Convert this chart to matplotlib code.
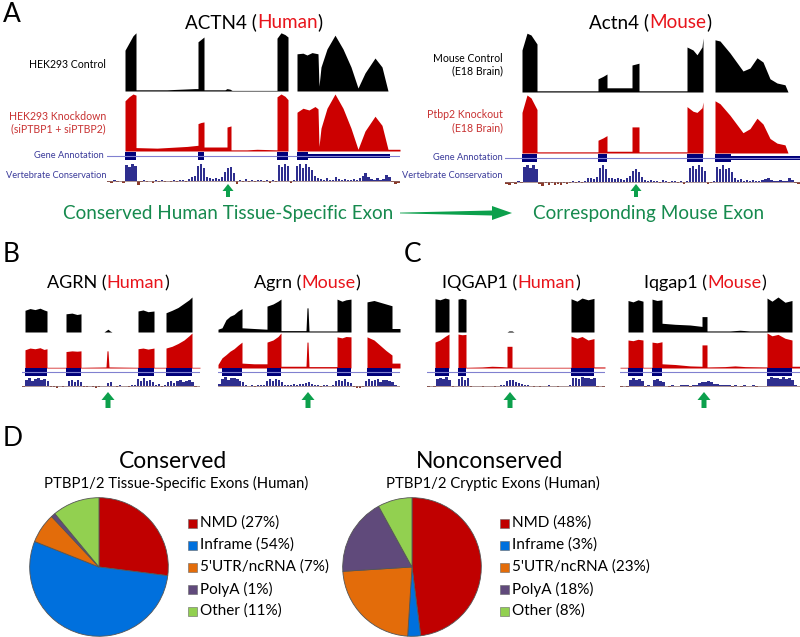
import matplotlib
matplotlib.use('Agg')
import matplotlib.pyplot as plt
import numpy as np
from matplotlib.patches import Rectangle, Polygon, FancyArrow

plt.rcParams['font.family'] = ['Lato', 'DejaVu Sans']

W, H = 800, 637
RED = '#cc0000'
TRED = '#e8141b'
NAVY = '#00007a'
CBLUE = '#2e2e8e'
CBROWN = '#8b3a2a'
ABLUE = '#3a3a9a'
GREEN_T = '#168a4e'
GREEN_A = '#0ca04c'

# ---- coverage profiles: (position, relative height) ----
actn4_ctrl = [(0, 0), (18, 0), (18, 68), (22, 80), (26, 92), (29, 97), (29, 2), (60, 2), (88, 4), (91, 4),
              (91, 82), (94, 86), (97, 90), (97, 2), (118, 2), (120, 4), (123, 3), (125, 1), (170, 1),
              (170, 88), (174, 97), (178, 94), (181, 90), (181, 0), (190, 0), (190, 62), (196, 63), (200, 60),
              (205, 64), (211, 62), (212, 8), (214, 40), (220, 70), (228, 93), (236, 70), (244, 40), (251, 5),
              (258, 30), (268, 55), (275, 40), (281, 0), (293, 0)]
actn4_kd = [(0, 0), (18, 0), (18, 88), (22, 95), (26, 100), (29, 98), (29, 6), (50, 5), (80, 8), (91, 10),
            (91, 48), (94, 50), (97, 51), (97, 7), (120, 7), (120, 42), (124, 44), (124, 2), (140, 2), (150, 3),
            (170, 2), (170, 95), (174, 100), (178, 96), (181, 90), (181, 0), (190, 0), (190, 68), (196, 75),
            (202, 72), (208, 78), (211, 74), (212, 8), (214, 40), (220, 75), (228, 100), (236, 75), (244, 40),
            (251, 3), (258, 35), (268, 61), (275, 45), (281, 3), (293, 3)]
mactn4_ctrl = [(0, 0), (17, 0), (17, 70), (22, 98), (26, 95), (32, 80), (32, 2), (93, 2), (93, 22), (98, 26),
               (102, 30), (102, 7), (127, 7), (127, 45), (134, 48), (134, 2), (182, 2), (182, 75), (188, 70),
               (192, 62), (197, 75), (198, 90), (198, 0), (210, 0), (210, 87), (215, 85), (225, 65), (238, 35),
               (245, 40), (252, 57), (258, 50), (265, 22), (272, 15), (280, 12), (283, 0), (295, 0)]
mactn4_ko = [(0, 0), (17, 0), (17, 70), (22, 100), (26, 95), (32, 75), (32, 2), (93, 2), (93, 22), (98, 26),
             (102, 30), (102, 3), (127, 3), (127, 45), (134, 45), (134, 2), (182, 2), (182, 80), (188, 72),
             (192, 70), (197, 78), (198, 88), (198, 0), (210, 0), (210, 90), (215, 85), (225, 65), (238, 35),
             (245, 42), (252, 60), (258, 50), (265, 25), (272, 17), (280, 14), (283, 0), (295, 0)]

agrn_ctrl = [(0, 0), (3, 0), (3, 62), (8, 67), (13, 64), (18, 68), (22, 63), (25, 60), (25, 0), (44, 0), (44, 52),
             (50, 54), (55, 50), (59, 52), (59, 0), (82, 0), (84, 4), (86, 8), (88, 3), (90, 0), (116, 0),
             (116, 60), (121, 63), (126, 58), (132, 60), (132, 0), (144, 0), (144, 55), (150, 62), (156, 70),
             (162, 82), (167, 92), (170, 100), (170, 0), (178, 0)]
agrn_kd = [(0, 0), (3, 0), (3, 52), (8, 57), (13, 55), (18, 58), (22, 53), (25, 55), (25, 2), (44, 2), (44, 47),
           (50, 49), (55, 48), (59, 49), (59, 2), (84, 3), (85, 49), (86, 49), (87, 3), (116, 2), (116, 55),
           (121, 57), (126, 54), (132, 57), (132, 2), (144, 2), (144, 57), (150, 62), (156, 70), (162, 80),
           (167, 92), (170, 100), (170, 2), (178, 2)]
magrn_ctrl = [(0, 8), (4, 12), (8, 35), (12, 45), (16, 50), (20, 60), (24, 67), (24, 12), (36, 10), (49, 8),
              (49, 74), (55, 80), (60, 88), (63, 94), (63, 4), (88, 4), (89, 69), (90, 69), (91, 3), (119, 3),
              (119, 94), (124, 88), (128, 92), (133, 94), (133, 0), (149, 0), (149, 86), (156, 90), (162, 85),
              (168, 80), (174, 75), (174, 10), (182, 10)]
magrn_ko = [(0, 10), (4, 29), (8, 38), (12, 48), (16, 55), (20, 65), (24, 74), (24, 14), (36, 12), (49, 12),
            (49, 74), (55, 80), (60, 90), (63, 100), (63, 5), (88, 5), (89, 74), (90, 74), (91, 4), (119, 4),
            (119, 89), (124, 86), (128, 90), (133, 89), (133, 0), (149, 0), (149, 89), (156, 80), (162, 65),
            (168, 50), (174, 37), (174, 14), (182, 14)]

iqgap1_ctrl = [(0, 0), (8, 0), (8, 95), (13, 92), (18, 97), (22, 94), (22, 0), (31, 0), (31, 94), (35, 96),
               (39, 93), (39, 0), (80, 0), (82, 3), (85, 3), (87, 0), (144, 0), (144, 95), (150, 88), (155, 97),
               (161, 92), (167, 96), (167, 0), (178, 0)]
iqgap1_kd = [(0, 0), (8, 0), (8, 74), (13, 80), (18, 90), (22, 97), (22, 0), (31, 0), (31, 97), (35, 95),
             (39, 96), (39, 2), (55, 3), (65, 5), (75, 4), (80, 3), (80, 62), (85, 62), (85, 2), (144, 2),
             (144, 91), (150, 85), (155, 90), (161, 80), (167, 84), (167, 3), (178, 3)]
miqgap1_ctrl = [(0, 0), (8, 0), (8, 90), (13, 86), (18, 92), (23, 88), (23, 0), (32, 0), (32, 94), (37, 90),
                (42, 92), (42, 25), (55, 22), (70, 20), (82, 16), (82, 44), (87, 44), (87, 3), (110, 3),
                (120, 5), (130, 3), (147, 3), (147, 97), (152, 88), (158, 100), (165, 85), (172, 90), (172, 0),
                (180, 0)]
miqgap1_ko = [(0, 2), (8, 2), (8, 80), (13, 78), (18, 82), (23, 80), (23, 2), (32, 2), (32, 74), (37, 72),
              (42, 75), (42, 12), (55, 10), (70, 6), (82, 5), (82, 66), (87, 66), (87, 3), (105, 4), (115, 6),
              (125, 4), (147, 3), (147, 100), (152, 92), (158, 96), (165, 85), (172, 80), (172, 5), (180, 5)]

# ---- gene annotation (coding blocks, utr blocks) ----
actn4_exons = [(18, 29), (91, 97), (170, 181), (190, 201)]
actn4_utr = [(201, 283)]
mactn4_exons = [(17, 32), (93, 102), (182, 198), (210, 226)]
mactn4_utr = [(226, 295)]
agrn_exons = [(3, 25), (44, 59), (116, 132), (144, 170)]
magrn_exons = [(4, 24), (49, 63), (119, 133), (149, 174)]
iqgap1_exons = [(8, 22), (31, 39), (144, 167)]
miqgap1_exons = [(8, 23), (32, 42), (147, 172)]

# ---- vertebrate conservation (binned scores) ----
actn4_cons = [-6, -12, 4, -8, 3, -10, 90, 78, 95, 82, -22,
              -8, 4, -6, 3, -10, 5, -4, 6, -8, 3, -5, 4, -6, 8, 5, -4,
              14, 20, 28, 85, 96, 72, 22, 15, 10, 18, 12, 24, 48, 72, 80, 42,
              -15, 8, -6, 10, -5, 6, -8, 5, 8, -4, 6, -10, 5, -6,
              90, 80, 95, 85, -10, 5, 85, 92, 70, 95, 80, 60, 30, 15,
              10, 5, 15, 8, 6, 20, 10, 5, 12, 8, 6, 10, 5, 15, 30, 45, 20, 10, 8, 15, 6, 10, 35, 25, -8, -15, -10]
mactn4_cons = [-10, -15, -8, -12, 5, -6, 85, 92, 80, 95, 70,
               -12, -20, -8, -15, -6, -18, -10, -14, -5, -12, -8, 4, -6, 5, -4, 6,
               20, 25, 18, 30, 80, 92, 75, 25, 20, 15, 22, 18, 12, 20, 35, 60, 70, 55, 30,
               10, 6, 12, 5, 8, -6, 10, 5, -8, 6, 4, -5, 8, -10, 5,
               80, 90, 75, 95, 85, 60, -12, -6, 4, 85, 75, 92, 70, 80, 55,
               20, 12, 15, 8, 10, 6, 12, 8, 5, 10, 15, 25, 12, 8, 6, 10, 5, 8, 20, 12, -6, -10]
agrn_cons = [-10, 70, 85, 60, 75, 90, 65, 80, 55, -15, -8, -20, 4, -6, 5,
             55, 70, 40, 65, 50, -10, -6, 4, -15, -20, -8, 5, -5, 30, 40,
             5, -8, 6, -5, 4, -10, 6, 8, 75, 60, 85, 55, 70, 45, 8, 20, -6, 10,
             40, 60, 35, 55, 70, 45, 60, 65, 50, -8, 5]
magrn_cons = [20, 80, 95, 70, 90, 85, 75, 60, 40, 10, 5, 15, -8, 6, 10, 8,
              60, 80, 55, 75, 65, 40, 10, 15, 8, 20, 12, 18, 25, 30, 45,
              20, 10, 15, -6, 8, 12, 5, 10, 55, 70, 60, 75, 50, 30, -15, -25, -20, -10,
              60, 75, 55, 70, 80, 50, 65, 70, 55, 40, 10, 5]
iqgap1_cons = [-6, 4, -8, 75, 90, 80, 95, 70, -10, 5, 80, 95, 70, 85,
               -8, 4, -5, 3, -6, 5, -4, 4, -6, 3, 8, 10, 55, 65, 70, 50, 30, 20, 15, 8,
               5, -6, 4, -8, 5, -5, 6, -4, 3, -6, 4, 5, -5, 6,
               85, 90, 80, 95, 85, 90, 75, 88, -6, 5, -8]
miqgap1_cons = [-8, 5, -6, 70, 85, 65, 80, 60, -10, 6, 4, 65, 80, 60, 50,
                5, -6, 8, 4, -5, 6, 10, 8, -6, 12, 15, 35, 50, 45, 55, 40, 25, 18, 12, 10, 6,
                8, -6, 10, 5, -8, 6, 4, -5, 8, -6, 5, 4, -5,
                80, 95, 85, 90, 75, 95, 80, 90, 70, 6, -5]

# ---- pie data ----
pie_labels = ['NMD', 'Inframe', "5'UTR/ncRNA", 'PolyA', 'Other']
pie_colors = ['#c00000', '#0070dd', '#e36c0a', '#604a7b', '#92d050']
conserved_pct = [27, 54, 7, 1, 11]
nonconserved_pct = [48, 3, 23, 18, 8]

fig = plt.figure(figsize=(8, 6.37), dpi=100)
ov = fig.add_axes([0, 0, 1, 1])
ov.set_xlim(0, W)
ov.set_ylim(H, 0)
ov.axis('off')


def px_axes(x, y, w, h):
    ax = fig.add_axes([x / W, 1 - (y + h) / H, w / W, h / H])
    ax.axis('off')
    return ax


def coverage(ax, prof, color, width):
    xs = [p[0] for p in prof]
    ys = [p[1] for p in prof]
    ax.fill_between(xs, ys, 0, color=color, lw=0)
    ax.plot([0, width], [0, 0], color=color if color != 'black' else '#555555', lw=0.6)
    ax.set_xlim(0, width)
    ax.set_ylim(0, 100)


def draw_gene(x0, width, geo, ctrl, treat, exons, utr, cons):
    ax = px_axes(x0, geo['black'][0], width, geo['black'][1] - geo['black'][0])
    coverage(ax, ctrl, 'black', width)
    ax = px_axes(x0, geo['red'][0], width, geo['red'][1] - geo['red'][0])
    coverage(ax, treat, RED, width)
    ax = px_axes(x0, geo['ann'][0], width, geo['ann'][1] - geo['ann'][0])
    ax.set_xlim(0, width)
    ax.set_ylim(0, 1)
    ax.plot([0, width], [0.5, 0.5], color='#8080d0', lw=0.8)
    for a, b in exons:
        ax.add_patch(Rectangle((a, 0.1), b - a, 0.8, color=NAVY, lw=0))
    for a, b in utr:
        ax.add_patch(Rectangle((a, 0.3), b - a, 0.4, color=NAVY, lw=0))
    ax = px_axes(x0, geo['cons'][0], width, geo['cons'][1] - geo['cons'][0])
    vals = np.array(cons, dtype=float)
    step = width / len(vals)
    centers = (np.arange(len(vals)) + 0.5) * step
    cols = [CBLUE if v > 0 else CBROWN for v in vals]
    ax.bar(centers, vals, width=step * 0.75, color=cols, lw=0)
    ax.plot([0, width], [0, 0], color='#8a6a6a', lw=0.5)
    ax.set_xlim(0, width)
    ax.set_ylim(geo['cons_lo'], 100)


geoA = {'black': (31, 91), 'red': (94, 151), 'ann': (151, 161), 'cons': (163, 187), 'cons_lo': -33}
geoA2 = {'black': (32, 92), 'red': (95, 153), 'ann': (153, 163), 'cons': (164, 188), 'cons_lo': -33}
geoBC = {'black': (297, 332), 'red': (333, 368), 'ann': (367, 377), 'cons': (377, 391), 'cons_lo': -55}

draw_gene(107, 293, geoA, actn4_ctrl, actn4_kd, actn4_exons, actn4_utr, actn4_cons)
draw_gene(505, 295, geoA2, mactn4_ctrl, mactn4_ko, mactn4_exons, mactn4_utr, mactn4_cons)
draw_gene(22, 178, geoBC, agrn_ctrl, agrn_kd, agrn_exons, [], agrn_cons)
draw_gene(218, 182, geoBC, magrn_ctrl, magrn_ko, magrn_exons, [], magrn_cons)
draw_gene(427, 178, geoBC, iqgap1_ctrl, iqgap1_kd, iqgap1_exons, [], iqgap1_cons)
draw_gene(620, 180, geoBC, miqgap1_ctrl, miqgap1_ko, miqgap1_exons, [], miqgap1_cons)

renderer = fig.canvas.get_renderer()


def title3(xc, y, name, species, size):
    parts = [(name + ' (', 'black'), (species, TRED), (')', 'black')]
    texts = [ov.text(0, y, s, color=c, fontsize=size, va='center', ha='left') for s, c in parts]
    widths = [t.get_window_extent(renderer).width for t in texts]
    start = xc - sum(widths) / 2
    for t, w in zip(texts, widths):
        t.set_x(start)
        start += w


title3(254, 22, 'ACTN4', 'Human', 13.6)
title3(650, 22, 'Actn4', 'Mouse', 13.6)
title3(108, 283, 'AGRN', 'Human', 13)
title3(307, 283, 'Agrn', 'Mouse', 13)
title3(511, 283, 'IQGAP1', 'Human', 13)
title3(705, 283, 'Iqgap1', 'Mouse', 13)

for letter, x, y in [('A', 3, 14), ('B', 3, 255), ('C', 404, 255), ('D', 3, 438)]:
    ov.text(x, y, letter, fontsize=19, va='center', ha='left')

# track labels
ov.text(106, 64, 'HEK293 Control', fontsize=7.6, ha='right', va='center')
ov.text(106, 116, 'HEK293 Knockdown', fontsize=7.6, ha='right', va='center', color='#c83232')
ov.text(106, 129, '(siPTBP1 + siPTBP2)', fontsize=7.6, ha='right', va='center', color='#c83232')
ov.text(104, 156, 'Gene Annotation', fontsize=6.7, ha='right', va='center', color=ABLUE)
ov.text(106, 175, 'Vertebrate Conservation', fontsize=6.7, ha='right', va='center', color=ABLUE)
ov.text(503, 58, 'Mouse Control', fontsize=7.6, ha='right', va='center')
ov.text(503, 71, '(E18 Brain)', fontsize=7.6, ha='right', va='center')
ov.text(503, 115, 'Ptbp2 Knockout', fontsize=7.6, ha='right', va='center', color='#c83232')
ov.text(503, 128, '(E18 Brain)', fontsize=7.6, ha='right', va='center', color='#c83232')
ov.text(503, 158, 'Gene Annotation', fontsize=6.7, ha='right', va='center', color=ABLUE)
ov.text(503, 175, 'Vertebrate Conservation', fontsize=6.7, ha='right', va='center', color=ABLUE)

# green arrows and text
for x, y in [(228, 197), (636, 197)]:
    ov.add_patch(FancyArrow(x, y, 0, -13, width=4, head_width=11, head_length=7,
                            length_includes_head=True, color=GREEN_A, lw=0))
for x, y in [(108, 408), (308, 408), (510, 408), (704, 408)]:
    ov.add_patch(FancyArrow(x, y, 0, -16, width=5, head_width=13, head_length=8,
                            length_includes_head=True, color=GREEN_A, lw=0))
ov.text(228, 214, 'Conserved Human Tissue-Specific Exon', fontsize=13.6, ha='center', va='center', color=GREEN_T)
ov.text(649, 214, 'Corresponding Mouse Exon', fontsize=13.6, ha='center', va='center', color=GREEN_T)
ov.add_patch(Polygon([(400, 212.6), (492, 210.5), (492, 206), (512, 213), (492, 220), (492, 215.5),
                      (400, 213.4)], closed=True, color=GREEN_A, lw=0))

# panel D
ov.text(173, 461, 'Conserved', fontsize=16.5, ha='center', va='center')
ov.text(176, 483, 'PTBP1/2 Tissue-Specific Exons (Human)', fontsize=10.7, ha='center', va='center')
ov.text(490, 461, 'Nonconserved', fontsize=16.5, ha='center', va='center')
ov.text(493, 483, 'PTBP1/2 Cryptic Exons (Human)', fontsize=10.7, ha='center', va='center')

for cx, pct, lx in [(99, conserved_pct, 188), (412, nonconserved_pct, 500)]:
    pax = px_axes(cx - 70, 497, 140, 140)
    pax.pie(pct, colors=pie_colors, startangle=90, counterclock=False,
            wedgeprops={'edgecolor': '#555555', 'linewidth': 0.6})
    pax.set_xlim(-1.01, 1.01)
    pax.set_ylim(-1.01, 1.01)
    for i, (lab, p) in enumerate(zip(pie_labels, pct)):
        yy = 523 + i * 22
        ov.add_patch(Rectangle((lx, yy - 4.5), 9, 9, facecolor=pie_colors[i], edgecolor='#666666', lw=0.4))
        ov.text(lx + 12, yy, '%s (%d%%)' % (lab, p), fontsize=11, ha='left', va='center')

fig.savefig('out.png', dpi=100)
